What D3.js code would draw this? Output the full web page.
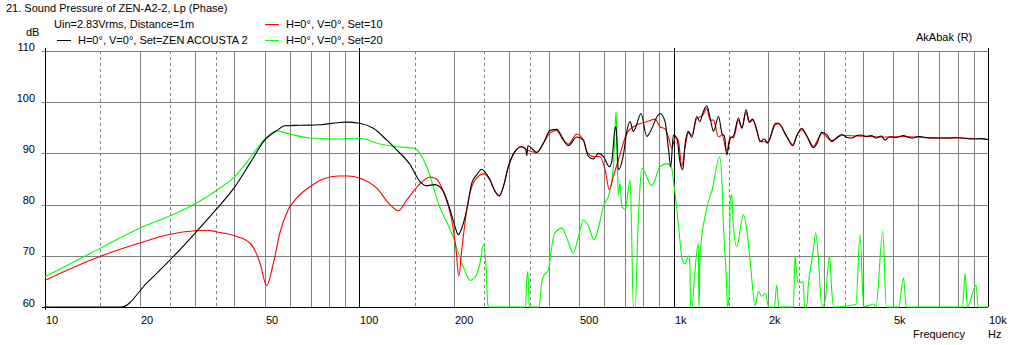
<!DOCTYPE html>
<html>
<head>
<meta charset="utf-8">
<script src="https://cdn.jsdelivr.net/npm/d3@7"></script>
<style>
  body { margin: 0; background: #fff; }
  svg { display: block; font-family: "Liberation Sans", Arial, sans-serif; font-size: 11px; }
</style>
</head>
<body>
<svg width="1012" height="345"></svg>
<script>
// tick labels
const yTicks = [60, 70, 80, 90, 100, 110];
const xTickValues = [10, 20, 50, 100, 200, 500, 1000, 2000, 5000, 10000];
const xTickLabels = ["10", "20", "50", "100", "200", "500", "1k", "2k", "5k", "10k"];

// series: [frequency Hz, dB]
const blackSet = [
  [10, 58], [17.5, 60], [21.1, 64.7], [25, 69.2], [30, 74.4], [35, 79.0], [40.2, 83.5],
  [44.9, 88.1], [50, 92.6], [54.7, 94.5], [58, 95.4], [65, 95.5], [75, 95.6], [85.5, 96.0],
  [91, 96.1], [100, 95.9], [110.8, 94.9], [122.3, 92.6], [131.5, 90.7], [145, 87.8],
  [156, 84.5], [163, 83.7], [174, 83.9], [185, 82.6], [194.4, 79.0], [201.6, 75.7],
  [206.5, 74.1], [210, 74.8], [219.7, 79.0], [227.9, 84.2], [236.3, 85.8], [245.1, 86.9],
  [250, 86.5], [260.5, 84.8], [270.2, 82.6], [278.9, 81.7], [287.2, 83.5], [297.9, 87.4],
  [312.9, 90.4], [328.6, 91.3], [338, 90.9], [341, 89.6], [344, 91.5], [366.9, 90.2],
  [385.1, 92.0], [404.5, 94.5], [424.9, 94.7], [440.6, 93.3], [462.4, 91.5], [491.7, 93.2],
  [516.1, 92.6], [535.4, 89.4], [555.3, 88.9], [576, 90.0], [597.5, 89.4], [624.4, 87.4],
  [635.4, 88.4], [651, 94.9], [655.8, 95.2], [666.8, 86.8], [691.8, 89.7], [709.3, 94.3],
  [726.6, 96.2], [744.4, 94.3], [753.7, 94.8], [787.6, 97.8], [821.1, 93.3], [830.8, 93.6],
  [905.2, 97.8], [939, 96.2], [962, 91.0], [979, 87.4], [998, 93.6], [1024, 93.0],
  [1045, 88.7], [1069, 86.8], [1087, 91.7], [1114, 94.3], [1142, 93.1], [1184, 97.2],
  [1212, 96.2], [1236, 97.8], [1274, 99.3], [1306, 96.9], [1339, 94.3], [1389, 97.2],
  [1425, 93.9], [1450, 93.4], [1475, 89.7], [1514, 93.0], [1550, 93.4], [1607, 96.9],
  [1648, 94.9], [1700, 98.5], [1741, 96.2], [1784, 96.7], [1836, 94.6], [1884, 92.3],
  [1940, 92.8], [1990, 92.0], [2107, 95.9], [2154, 95.9], [2290, 93.3], [2395, 91.5],
  [2460, 93.3], [2555, 94.9], [2650, 93.4], [2783, 91.1], [2860, 92.0], [2960, 94.1],
  [3072, 93.6], [3187, 92.3], [3307, 93.1], [3432, 93.7], [3560, 93.1], [3690, 93.0],
  [3824, 93.5], [3950, 93.6], [4100, 93.3], [4250, 93.5], [4410, 93.0], [4575, 93.4],
  [4700, 92.6], [4850, 93.2], [5100, 93.1], [5381, 93.5], [5600, 93.1], [5785, 93.0],
  [6000, 93.3], [6220, 93.2], [6600, 93.0], [7000, 93.0], [7500, 93.0], [8000, 93.1],
  [8500, 92.9], [9060, 92.8], [9500, 92.9], [10000, 92.7]
];

const redSet = [
  [10, 65.2], [15, 69.9], [20, 72.5], [25, 74.2], [30, 74.9], [33, 75.0], [35, 74.7],
  [40.2, 73.9], [44.9, 72.5], [48.3, 68.6], [50.7, 64.2], [53.3, 68.6], [55.9, 74.5],
  [59.4, 79.0], [63.2, 81.3], [69.7, 83.5], [76.8, 85.0], [85.8, 85.6], [92, 85.6],
  [100, 85.2], [113.6, 83.2], [125.2, 80.0], [133.1, 78.8], [141.5, 80.9], [154, 83.7],
  [167.9, 85.4], [176, 85.0], [187.4, 81.6], [196.8, 77.0], [203.1, 71.2], [207.2, 66.0],
  [211.8, 71.2], [219.7, 79.0], [230.5, 84.2], [248, 86.0], [260.5, 84.8], [270.2, 82.6],
  [278.9, 81.7], [287.2, 83.5], [297.9, 87.4], [312.9, 90.4], [328.6, 91.3], [341, 90.7],
  [366.9, 90.2], [385.1, 92.0], [404.5, 94.0], [424.9, 94.5], [440.6, 93.0], [462.4, 91.8],
  [491.7, 93.8], [516.1, 92.6], [529, 90.4], [555.3, 89.4], [583, 89.4], [605, 86.8],
  [624.4, 82.9], [642.9, 85.5], [666.8, 88.7], [709.3, 93.9], [744.4, 95.2], [821.1, 96.2],
  [872.6, 96.7], [905, 95.2], [939, 94.8], [962, 93.2], [986, 91.0], [1010, 93.0],
  [1035, 92.5], [1061, 87.5], [1087, 91.2], [1114, 94.0], [1142, 93.5], [1184, 96.8],
  [1236, 97.4], [1274, 98.8], [1306, 96.5], [1339, 96.5], [1389, 93.2], [1425, 93.6],
  [1475, 90.5], [1514, 93.2], [1550, 93.0], [1607, 96.5], [1648, 95.0], [1700, 98.0],
  [1741, 96.0], [1784, 96.5], [1836, 94.8], [1884, 92.4], [1990, 92.2], [2107, 95.6],
  [2154, 95.8], [2290, 93.2], [2395, 91.7], [2460, 93.4], [2555, 94.6], [2650, 93.5],
  [2783, 91.4], [2960, 93.9], [3187, 92.5], [3432, 93.5], [3824, 93.4], [4250, 93.3],
  [4575, 93.2], [5381, 93.3], [6220, 93.1], [7000, 93.0], [8000, 93.0], [9060, 92.9],
  [10000, 92.7]
];

const greenSet = [
  [10, 65.9], [15, 71.5], [20, 75.4], [25, 77.8], [30, 80.1], [35, 82.7], [40.2, 85.5],
  [44.9, 89.1], [50, 92.8], [54.7, 94.4], [60, 93.8], [69.7, 93.0], [85.8, 92.8],
  [100, 93.0], [113.6, 92.0], [131.5, 91.3], [150.4, 91.0], [154.1, 90.4], [163.9, 87.4],
  [180, 79.6], [198.7, 73.8], [209, 69.6], [217, 67.0], [225, 65.2], [233, 65.7],
  [242, 68.6], [248, 72.2], [253, 67.9], [256, 60.8], [258, 58], [338, 58], [340, 64.0],
  [343, 66.9], [345, 65], [347, 58], [373, 58], [380, 64.7], [385, 66.0], [400, 67.3],
  [404, 69.2], [418, 74.4], [441, 75.4], [457, 73.5], [479, 70.6], [498, 73.8],
  [516, 77.0], [535, 75.9], [558, 73.1], [576, 75.4], [597, 79.6], [612, 80.9],
  [620, 81.6], [643, 87.4], [651, 95.0], [656, 98.2], [662, 88.0], [667, 82.0],
  [675, 84.2], [684, 79.6], [692, 79.3], [701, 79.0], [727, 84.8], [735, 74.5],
  [744, 58], [754, 58], [771, 76.4], [780, 82.6], [792, 87.1], [852, 83.7], [905, 87.4],
  [951, 88.0], [986, 87.1], [998, 84.8], [1024, 79.0], [1049, 72.5], [1061, 69.9],
  [1087, 68.4], [1114, 70.0], [1126, 68.6], [1132, 58], [1145, 58], [1165, 66.0],
  [1198, 72.5], [1203, 58], [1207, 62], [1212, 69.9], [1274, 79.3], [1326, 82.9],
  [1401, 89.3], [1425, 84.2], [1442, 75.1], [1470, 66.0], [1484, 58], [1500, 62],
  [1514, 80.9], [1530, 81.9], [1545, 77], [1586, 71.8], [1667, 78.0], [1708, 75.1],
  [1750, 69.2], [1816, 60.3], [1861, 63.0], [1907, 62.1], [1956, 62.7], [2006, 58],
  [2090, 58], [2128, 64.3], [2160, 58], [2404, 58], [2432, 70.0], [2460, 66.6],
  [2487, 64.7], [2582, 64.9], [2610, 58], [2650, 58], [2680, 64.0], [2783, 71.2],
  [2830, 74.5], [2884, 69.9], [2960, 58], [3035, 61.4], [3080, 66], [3132, 70.0],
  [3187, 62.8], [3230, 58], [3800, 60.5], [3918, 74.1], [4020, 58], [4330, 60.6],
  [4400, 58], [4627, 74.8], [4750, 58], [5200, 59.0], [5381, 65.7], [5500, 58],
  [7000, 58], [7150, 59.5], [7300, 58], [8000, 59.0], [8300, 58], [8457, 66.6],
  [8600, 58], [9167, 64.3], [9300, 58], [10000, 58]
];

const svg = d3.select("svg");
const plotLeft = 45, plotRight = 988, plotTop = 51, plotBottom = 307;

const xScale = d3.scaleLog().domain([10, 10000]).range([plotLeft, plotRight]);
const yScale = d3.scaleLinear().domain([60, 110]).range([plotBottom, plotTop]).clamp(true);
const px = (v) => Math.round(v) + 0.5;

// vertical grid
const grid = svg.append("g").attr("shape-rendering", "crispEdges");
[10, 100, 1000].forEach((dec) => {
  d3.range(2, 10).forEach((m) => {
    const f = dec * m;
    grid.append("line")
      .attr("x1", px(xScale(f))).attr("x2", px(xScale(f)))
      .attr("y1", plotTop).attr("y2", plotBottom)
      .attr("stroke", "#808080");
  });
  [1.5, 2.5, 3.5].forEach((m) => {
    const f = dec * m;
    grid.append("line")
      .attr("x1", px(xScale(f))).attr("x2", px(xScale(f)))
      .attr("y1", plotTop).attr("y2", plotBottom)
      .attr("stroke", "#808080")
      .attr("stroke-dasharray", "3,3");
  });
});

// horizontal grid
yTicks.forEach((v) => {
  grid.append("line")
    .attr("x1", plotLeft - 3).attr("x2", plotRight)
    .attr("y1", px(yScale(v))).attr("y2", px(yScale(v)))
    .attr("stroke", v === 60 ? "#000" : "#808080");
});

// heavy decade lines and frame
[10, 100, 1000, 10000].forEach((f) => {
  grid.append("line")
    .attr("x1", px(xScale(f))).attr("x2", px(xScale(f)))
    .attr("y1", plotTop - 3).attr("y2", f === 10 ? plotBottom + 3 : plotBottom)
    .attr("stroke", "#000");
});

// axis labels
svg.selectAll(".ylab")
  .data(yTicks)
  .enter()
  .append("text")
  .attr("x", 35)
  .attr("y", (d) => yScale(d) - 0.5)
  .attr("text-anchor", "end")
  .text((d) => d);

svg.selectAll(".xlab")
  .data(xTickValues)
  .enter()
  .append("text")
  .attr("x", (d) => Math.round(xScale(d)) + 1)
  .attr("y", 324)
  .text((d, i) => xTickLabels[i]);

svg.append("text").attr("x", 26).attr("y", 36).text("dB");
svg.append("text").attr("x", 913).attr("y", 338).text("Frequency");
svg.append("text").attr("x", 988).attr("y", 338).text("Hz");
svg.append("text").attr("x", 916).attr("y", 41).text("AkAbak (R)");
svg.append("text").attr("x", 6).attr("y", 12).text("21. Sound Pressure of ZEN-A2-2, Lp (Phase)");
svg.append("text").attr("x", 54).attr("y", 28).text("Uin=2.83Vrms, Distance=1m");

// legend
const legend = [
  { x: 57, y: 40, color: "#000000", label: "H=0°, V=0°, Set=ZEN ACOUSTA 2" },
  { x: 265, y: 24, color: "#ff0000", label: "H=0°, V=0°, Set=10" },
  { x: 265, y: 40, color: "#00ff00", label: "H=0°, V=0°, Set=20" }
];
legend.forEach((l) => {
  svg.append("line")
    .attr("x1", l.x).attr("x2", l.x + 14)
    .attr("y1", l.y + 0.5).attr("y2", l.y + 0.5)
    .attr("stroke", l.color)
    .attr("shape-rendering", "crispEdges");
  svg.append("text").attr("x", l.x + 21).attr("y", l.y + 4).text(l.label);
});

// curves
const line = d3.line()
  .x((d) => xScale(d[0]))
  .y((d) => yScale(d[1]))
  .curve(d3.curveMonotoneX);

[
  { data: greenSet, color: "#00ff00" },
  { data: redSet, color: "#ff0000" },
  { data: blackSet, color: "#000000" }
].forEach((s) => {
  svg.append("path")
    .datum(s.data)
    .attr("d", line)
    .attr("fill", "none")
    .attr("stroke", s.color)
    .attr("stroke-width", 1.1);
});
</script>
</body>
</html>
